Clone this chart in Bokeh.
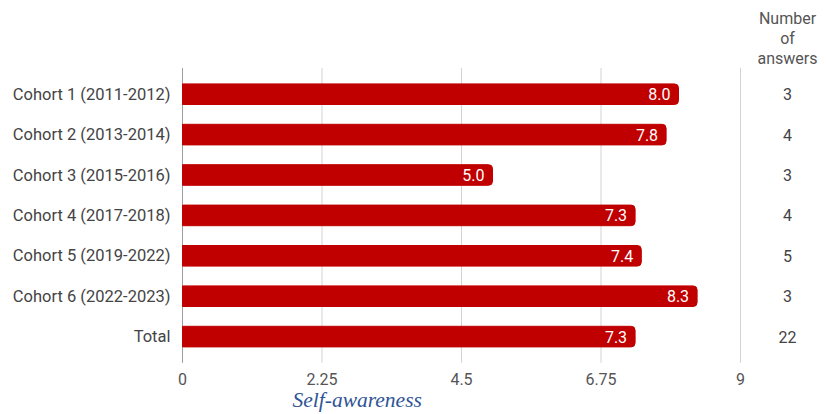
from bokeh.plotting import figure
from bokeh.models import Range1d, ColumnDataSource
from bokeh.core.properties import value
from bokeh.embed import file_html
from bokeh.resources import INLINE

categories = ["Cohort 1 (2011-2012)", "Cohort 2 (2013-2014)", "Cohort 3 (2015-2016)",
              "Cohort 4 (2017-2018)", "Cohort 5 (2019-2022)", "Cohort 6 (2022-2023)", "Total"]
scores = [8.0, 7.8, 5.0, 7.3, 7.4, 8.3, 7.3]
answers = [3, 4, 3, 4, 5, 3, 22]
x_ticks = [0, 2.25, 4.5, 6.75, 9]
x_tick_labels = ["0", "2.25", "4.5", "6.75", "9"]
header_lines = ["Number", "of", "answers"]
title = "Self-awareness"

# layout (pixels -> data): 62 px per x unit, 40.4 px per category row
PX_X, PX_Y = 62.0, 40.4
X0_PX, Y0_PX = 182.0, 93.7
W, H = 827, 414
PAD = 0.65  # extra rows above / below the bars for the plot area

idx = list(range(len(categories)))
y_lo, y_hi = -PAD, idx[-1] + PAD
col_x = (787 - X0_PX) / PX_X

bars = ColumnDataSource(dict(
    y=idx, score=scores, score_txt=[f"{v:.1f}" for v in scores],
    n=[str(v) for v in answers], nx=[col_x] * len(idx), cat=categories,
    lx=[0] * len(idx)))
grid = ColumnDataSource(dict(
    x=x_ticks, y0=[y_lo] * len(x_ticks), y1=[y_hi] * len(x_ticks),
    color=["#9e9e9e"] + ["#d3d3d3"] * (len(x_ticks) - 1), lab=x_tick_labels))

p = figure(width=W, height=H, output_backend="svg", toolbar_location=None,
           x_range=Range1d(-X0_PX / PX_X, (W - X0_PX) / PX_X),
           y_range=Range1d((H - Y0_PX) / PX_Y, -Y0_PX / PX_Y),
           min_border=0)
p.outline_line_color = None
p.xaxis.visible = False
p.yaxis.visible = False
p.grid.visible = False

# grid lines
p.segment(x0="x", x1="x", y0="y0", y1="y1", source=grid, line_color="color", line_width=1)

# bars and value labels
p.hbar(y="y", right="score", left=0, height=0.51, source=bars, color="#c00000",
       border_radius=(0, 4, 4, 0))
p.text(x="score", y="y", text="score_txt", source=bars, text_color="white",
       text_align="right", text_baseline="middle", x_offset=-8,
       text_font=value("Roboto"), text_font_size="16px")

# category labels
p.text(x="lx", y="y", text="cat", source=bars, text_color="#444444",
       text_align="right", text_baseline="middle", x_offset=-12,
       text_font=value("Roboto"), text_font_size="16.5px")

# x tick labels
p.text(x="x", y="y1", text="lab", source=grid, text_color="#555555",
       text_align="center", text_baseline="middle", y_offset=16,
       text_font=value("Roboto"), text_font_size="16px")

# number of answers column
p.text(x="nx", y="y", text="n", source=bars, text_color="#444444",
       text_align="center", text_baseline="middle",
       text_font=value("Roboto"), text_font_size="16px")
hdr_y = [(py - Y0_PX) / PX_Y for py in (18, 38, 58)]
p.text(x=[col_x] * 3, y=hdr_y, text=header_lines, text_color="#555555",
       text_align="center", text_baseline="middle",
       text_font=value("Roboto"), text_font_size="16px")

# caption
p.text(x=[(292 - X0_PX) / PX_X], y=[(399 - Y0_PX) / PX_Y], text=[title],
       text_color="#2f5496", text_align="left", text_baseline="middle",
       text_font=value("Liberation Serif"), text_font_style="italic",
       text_font_size="21.5px")

open("out.html", "w").write(file_html(p, INLINE))
